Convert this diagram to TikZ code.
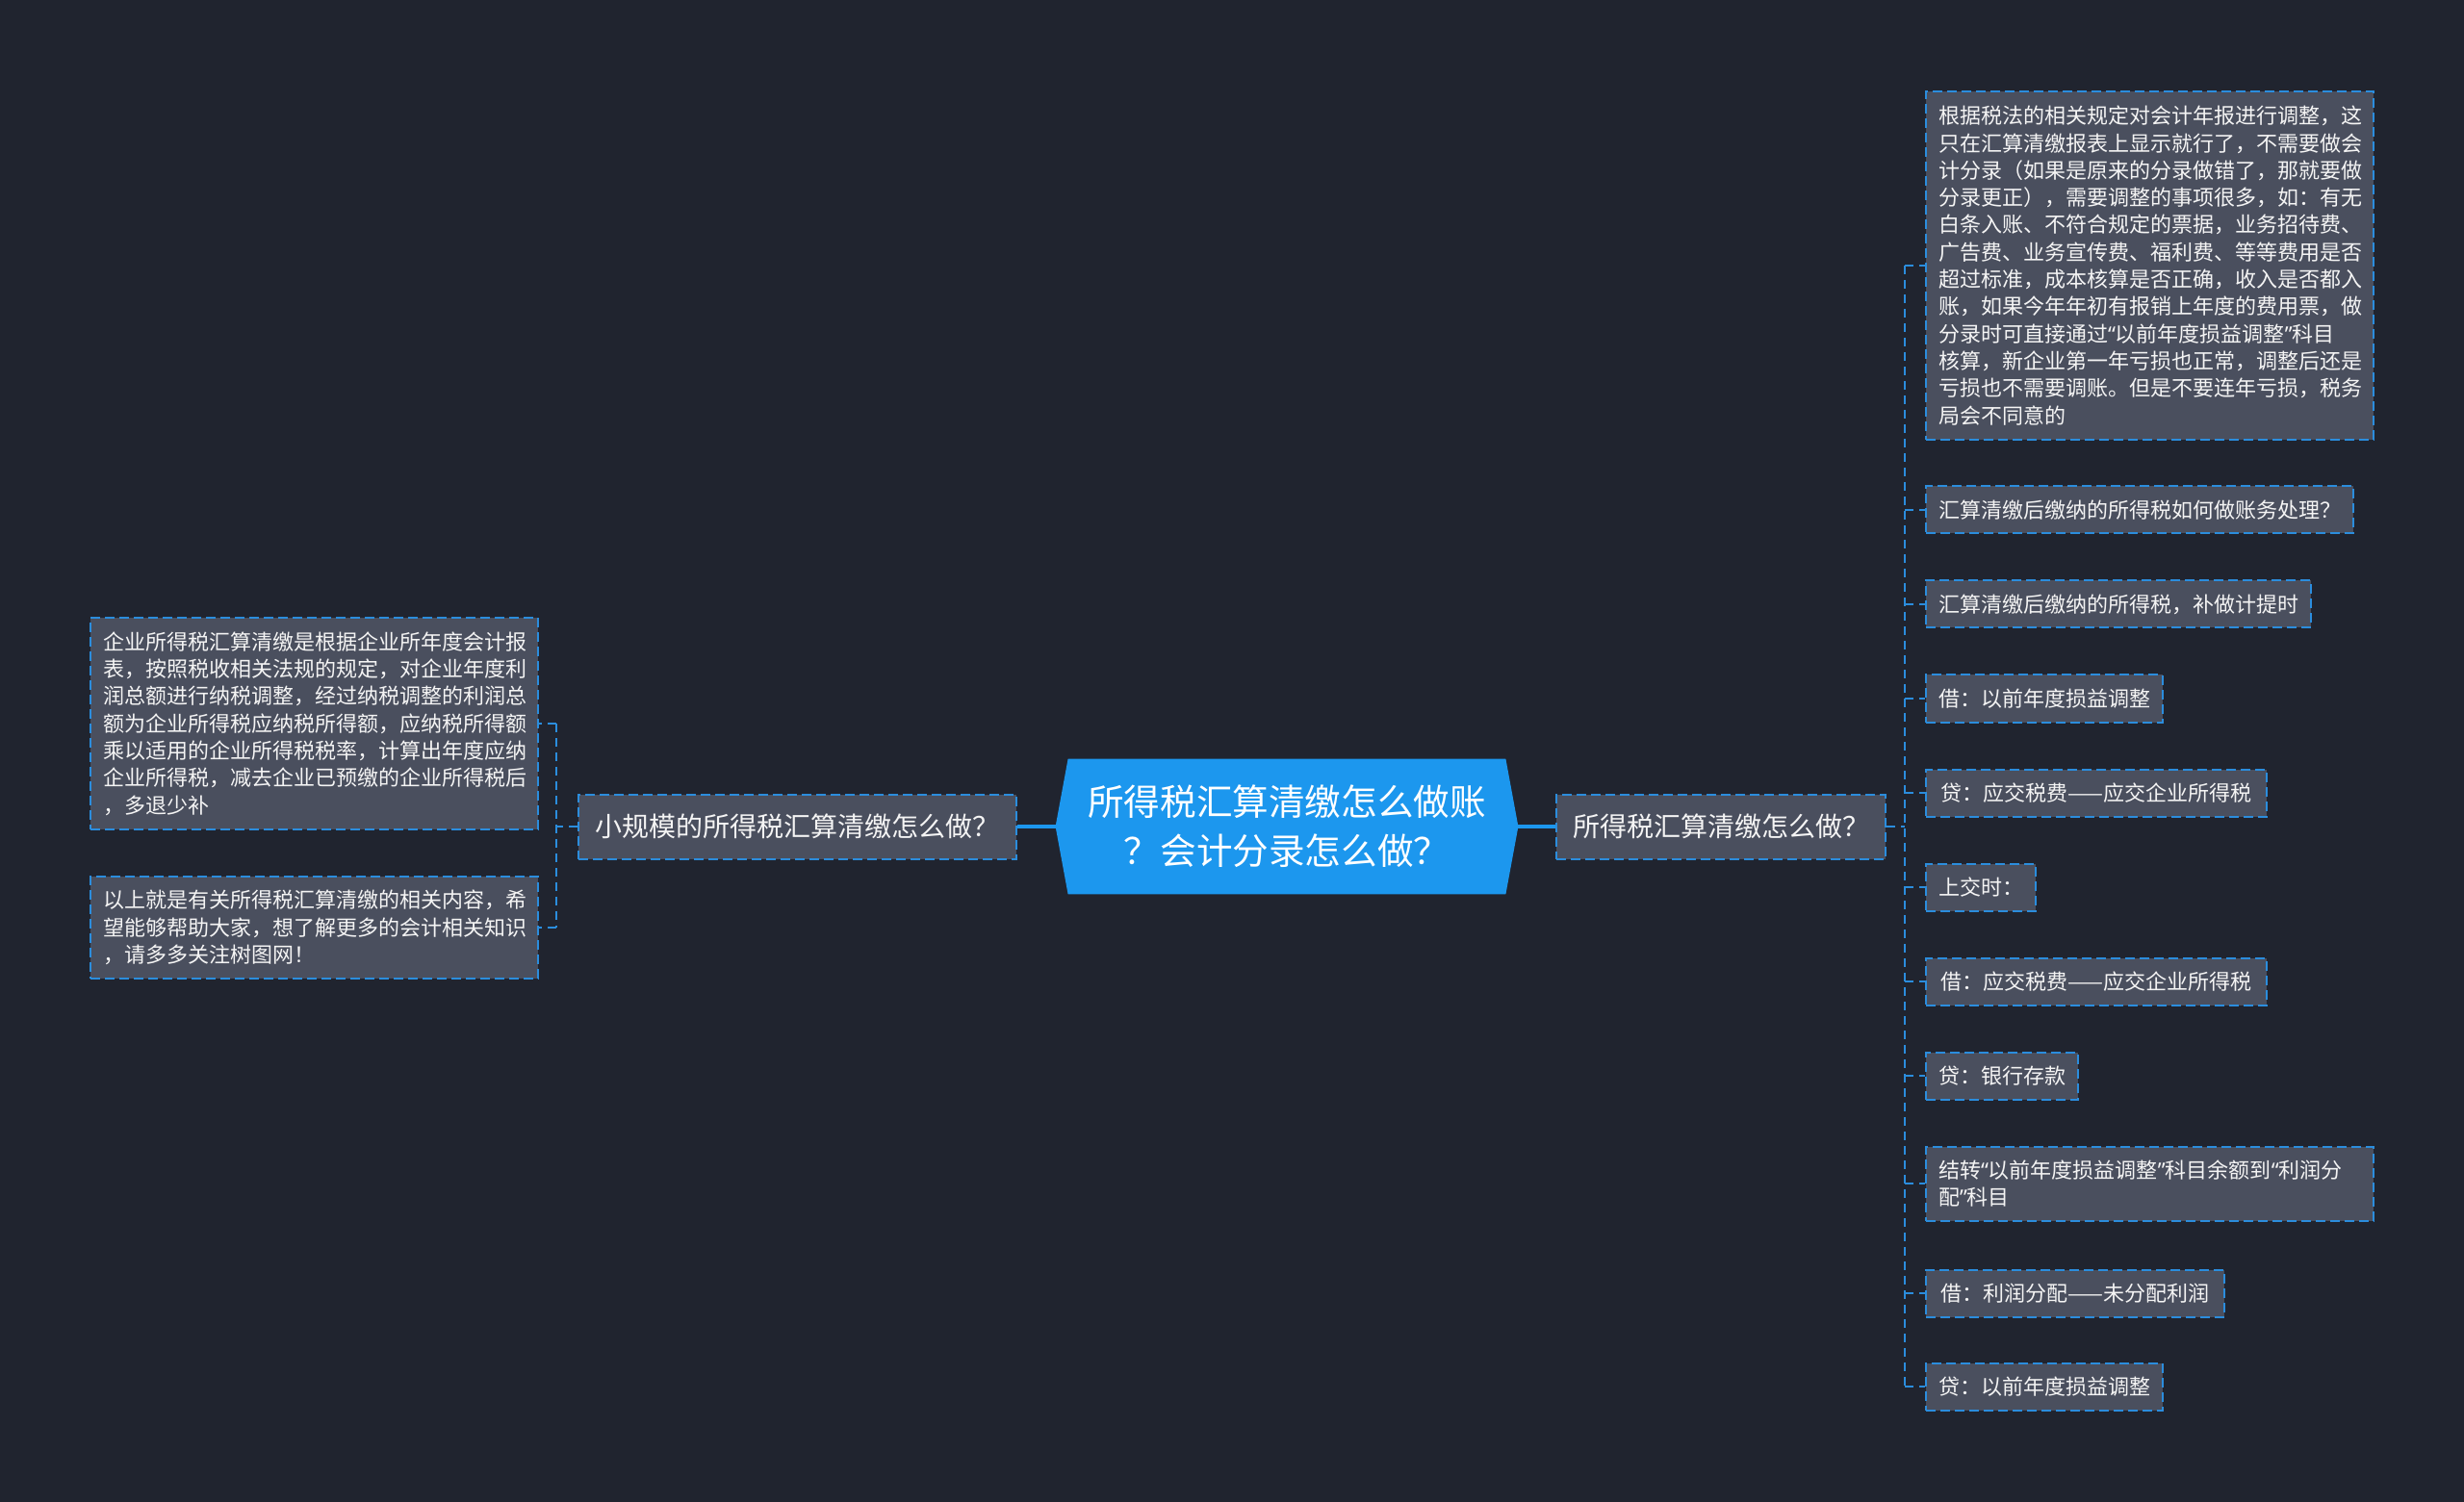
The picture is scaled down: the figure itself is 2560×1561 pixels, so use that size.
\documentclass[tikz,border=0pt]{standalone}
\usepackage{fontspec}
\newfontfamily\cjk{Noto Sans CJK SC}
\newfontfamily\lat{Noto Sans}
\newcommand{\oq}{{\lat “}}
\newcommand{\cq}{{\lat ”}}
\usetikzlibrary{backgrounds}
\definecolor{bgc}{HTML}{20242F}
\definecolor{boxgray}{HTML}{4A4F5E}
\definecolor{dblue}{HTML}{2B8DDD}
\definecolor{hexblue}{HTML}{1C97EE}
\definecolor{txt}{HTML}{F4F4F4}
\tikzset{
  leaf/.style={draw=dblue, line width=1pt, dash pattern=on 5pt off 2.5pt, fill=boxgray, text=txt,
    font=\cjk\fontsize{11}{14.15}\selectfont, inner xsep=6.5pt, inner ysep=0pt, align=left,
    minimum height=24.5pt},
  branch/.style={draw=dblue, line width=1pt, dash pattern=on 5pt off 2.5pt, fill=boxgray, text=txt,
    font=\cjk\fontsize{14}{17}\selectfont, inner xsep=8pt, inner ysep=0pt, align=left,
    minimum height=33.5pt},
  rootbox/.style={text=white, font=\cjk\fontsize{18.8}{25.5}\selectfont, align=center,
    minimum width=240pt, minimum height=70pt, inner sep=0pt},
  solidc/.style={draw=hexblue, line width=1.8pt},
  dconn/.style={draw=dblue, line width=1pt, dash pattern=on 4.5pt off 3pt}
}
\begin{document}
\begin{tikzpicture}[x=0.5pt,y=-0.5pt]
\useasboundingbox (0,0) rectangle (2560,1561);

% root
\node[rootbox] (root) at (1337,859) {所得税汇算清缴怎么做账\\？会计分录怎么做？};
\begin{pgfonlayer}{background}
  \fill[bgc] (0,0) rectangle (2560,1561);
  \fill[hexblue] (root.west) -- ([xshift=6.5pt]root.north west) -- ([xshift=-6.5pt]root.north east)
    -- (root.east) -- ([xshift=-6.5pt]root.south east) -- ([xshift=6.5pt]root.south west) -- cycle;
\end{pgfonlayer}

% branches
\node[branch, minimum width=171pt] (rb) at (1788,859) {所得税汇算清缴怎么做？};
\node[branch, minimum width=227.5pt] (lb) at (828.5,859) {小规模的所得税汇算清缴怎么做？};

% right leaves
\node[leaf, anchor=west, minimum width=232.5pt, minimum height=181pt, text width=219.5pt] (r1) at (2000,276)
 {根据税法的相关规定对会计年报进行调整，这\\只在汇算清缴报表上显示就行了，不需要做会\\计分录（如果是原来的分录做错了，那就要做\\分录更正），需要调整的事项很多，如：有无\\白条入账、不符合规定的票据，业务招待费、\\广告费、业务宣传费、福利费、等等费用是否\\超过标准，成本核算是否正确，收入是否都入\\账，如果今年年初有报销上年度的费用票，做\\分录时可直接通过\oq 以前年度损益调整\cq 科目\\核算，新企业第一年亏损也正常，调整后还是\\亏损也不需要调账。但是不要连年亏损，税务\\局会不同意的};
\node[leaf, anchor=west, minimum width=221.5pt] (r2) at (2000,530) {汇算清缴后缴纳的所得税如何做账务处理？};
\node[leaf, anchor=west, minimum width=199pt] (r3) at (2000,628) {汇算清缴后缴纳的所得税，补做计提时};
\node[leaf, anchor=west, minimum width=121.5pt] (r4) at (2000,726) {借：以前年度损益调整};
\node[leaf, anchor=west, minimum width=177pt] (r5) at (2000,824) {贷：应交税费——应交企业所得税};
\node[leaf, anchor=west, minimum width=55.5pt] (r6) at (2000,922) {上交时：};
\node[leaf, anchor=west, minimum width=177pt] (r7) at (2000,1020) {借：应交税费——应交企业所得税};
\node[leaf, anchor=west, minimum width=77.5pt] (r8) at (2000,1118) {贷：银行存款};
\node[leaf, anchor=west, minimum width=232.5pt, minimum height=38.5pt, text width=219.5pt] (r9) at (2000,1230)
 {结转\oq 以前年度损益调整\cq 科目余额到\oq 利润分\\配\cq 科目};
\node[leaf, anchor=west, minimum width=155pt] (r10) at (2000,1344) {借：利润分配——未分配利润};
\node[leaf, anchor=west, minimum width=121.5pt] (r11) at (2000,1441) {贷：以前年度损益调整};

% left leaves
\node[leaf, anchor=east, minimum width=232.5pt, minimum height=110pt, text width=219.5pt] (l1) at (560,752)
 {企业所得税汇算清缴是根据企业所年度会计报\\表，按照税收相关法规的规定，对企业年度利\\润总额进行纳税调整，经过纳税调整的利润总\\额为企业所得税应纳税所得额，应纳税所得额\\乘以适用的企业所得税税率，计算出年度应纳\\企业所得税，减去企业已预缴的企业所得税后\\，多退少补};
\node[leaf, anchor=east, minimum width=232.5pt, minimum height=53pt, text width=219.5pt] (l2) at (560,964)
 {以上就是有关所得税汇算清缴的相关内容，希\\望能够帮助大家，想了解更多的会计相关知识\\，请多多关注树图网！};

% connectors
\draw[solidc] (root.east) -- (rb.west);
\draw[solidc] (root.west) -- (lb.east);

\coordinate (rt) at (1979,859);
\draw[dconn] (rb.east) -- (rt);
\draw[dconn] (rt |- r1.west) -- (rt |- r11.west);
\foreach \k in {1,...,11} { \draw[dconn] (rt |- r\k.west) -- (r\k.west); }

\coordinate (lt) at (578,859);
\draw[dconn] (lb.west) -- (lt);
\draw[dconn] (lt |- l1.east) -- (lt |- l2.east);
\foreach \k in {1,2} { \draw[dconn] (lt |- l\k.east) -- (l\k.east); }
\end{tikzpicture}
\end{document}
